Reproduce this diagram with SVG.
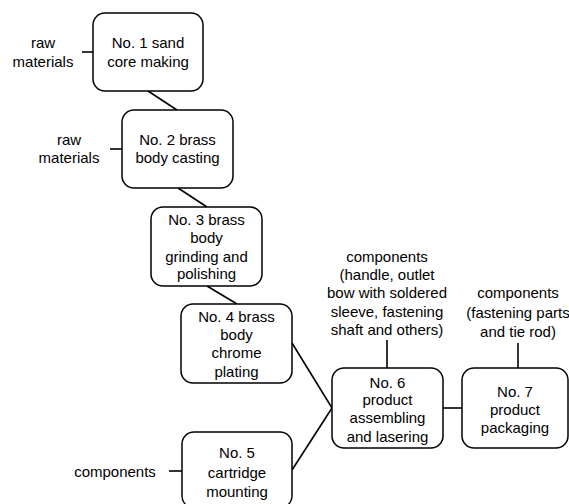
<svg xmlns="http://www.w3.org/2000/svg" width="569" height="504" viewBox="0 0 569 504">
<style>
.box{fill:#fff;stroke:#000;stroke-width:1.5}
.c{stroke:#000;stroke-width:1.6;fill:none}
text{font-family:"Liberation Sans",Arial,sans-serif;font-size:15px;fill:#000;text-anchor:middle}
</style>
<rect width="569" height="504" fill="#fff"/>
<g id="connectors">
<line class="c" x1="82" y1="52" x2="93" y2="52"/>
<line class="c" x1="110" y1="149" x2="122" y2="149"/>
<line class="c" x1="148" y1="91" x2="177" y2="110"/>
<line class="c" x1="178" y1="188" x2="207" y2="207"/>
<line class="c" x1="207" y1="286" x2="237" y2="304"/>
<line class="c" x1="292" y1="343" x2="332" y2="408"/>
<line class="c" x1="292" y1="470" x2="332" y2="408"/>
<line class="c" x1="169" y1="471" x2="182" y2="471"/>
<line class="c" x1="387" y1="340" x2="387" y2="368"/>
<line class="c" x1="518" y1="343" x2="518" y2="368"/>
<line class="c" x1="443" y1="408" x2="462" y2="408"/>
</g>
<g id="label-raw1"><text x="43" y="48">raw</text><text x="43" y="67">materials</text></g>
<g id="label-raw2"><text x="69" y="145">raw</text><text x="69" y="163">materials</text></g>
<g id="label-comp5"><text x="115" y="477">components</text></g>
<g id="label-comp6"><text x="387" y="262">components</text><text x="387" y="280">(handle, outlet</text><text x="387" y="298">bow with soldered</text><text x="387" y="317">sleeve, fastening</text><text x="387" y="335">shaft and others)</text></g>
<g id="label-comp7"><text x="518" y="298">components</text><text x="518" y="318">(fastening parts</text><text x="518" y="337">and tie rod)</text></g>
<g id="node1"><rect class="box" x="93" y="13" width="110" height="78" rx="12"/><text x="148" y="48">No. 1 sand</text><text x="148" y="67">core making</text></g>
<g id="node2"><rect class="box" x="122" y="110" width="111" height="78" rx="12"/><text x="177.5" y="145">No. 2 brass</text><text x="177.5" y="163">body casting</text></g>
<g id="node3"><rect class="box" x="151" y="207" width="111" height="79" rx="12"/><text x="206.5" y="225">No. 3 brass</text><text x="206.5" y="243">body</text><text x="206.5" y="262">grinding and</text><text x="206.5" y="279">polishing</text></g>
<g id="node4"><rect class="box" x="181" y="304" width="111" height="79" rx="12"/><text x="236.5" y="322">No. 4 brass</text><text x="236.5" y="340">body</text><text x="236.5" y="358">chrome</text><text x="236.5" y="377">plating</text></g>
<g id="node5"><rect class="box" x="182" y="432" width="110" height="76" rx="12"/><text x="237" y="458">No. 5</text><text x="237" y="478">cartridge</text><text x="237" y="497">mounting</text></g>
<g id="node6"><rect class="box" x="332" y="368" width="111" height="80" rx="12"/><text x="387.5" y="388">No. 6</text><text x="387.5" y="405">product</text><text x="387.5" y="423">assembling</text><text x="387.5" y="442">and lasering</text></g>
<g id="node7"><rect class="box" x="462" y="368" width="106" height="80" rx="12"/><text x="515" y="397">No. 7</text><text x="515" y="415">product</text><text x="515" y="433">packaging</text></g>
</svg>
